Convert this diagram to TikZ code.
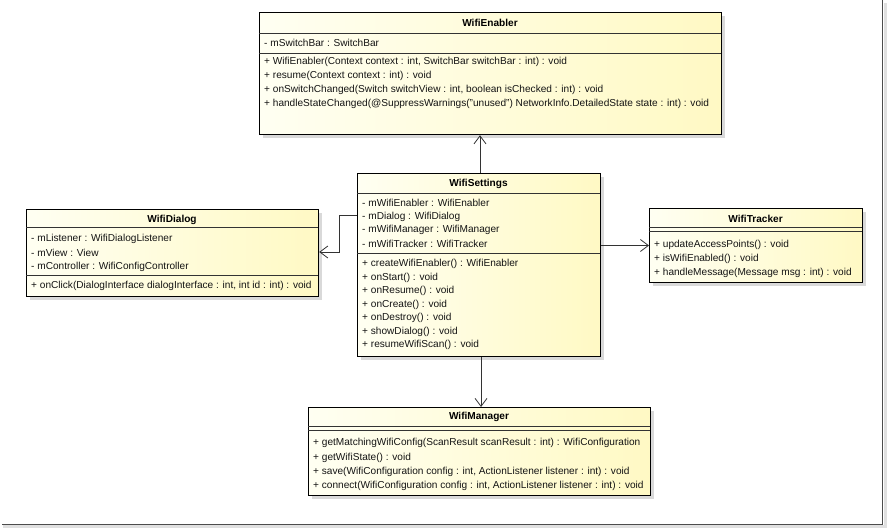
\documentclass[tikz,border=0pt]{standalone}
\usepackage{fontspec}
\setmainfont{Liberation Sans}
\usetikzlibrary{arrows.meta,shadows,calc}
\definecolor{boxL}{HTML}{FFFFF2}
\definecolor{boxR}{HTML}{FFF9C4}
\definecolor{lineC}{HTML}{333333}
\tikzset{
  classbox/.style={draw=black, line width=1.2pt, inner sep=0pt, anchor=north west,
    left color=boxL, right color=boxR,
    drop shadow={shadow xshift=3pt, shadow yshift=-3pt, fill=black!15, opacity=1}},
  sep/.style={draw=black!80, line width=0.9pt},
  txt/.style={anchor=west, inner sep=0pt, text=black!92, font=\fontsize{10.1}{12}\selectfont},
  ttl/.style={anchor=center, inner sep=0pt, text=black, font=\fontsize{10.1}{12}\selectfont\bfseries},
  assoc/.style={draw=lineC, line width=0.8pt, -{Straight Barb[length=8pt,width=12pt,line width=0.8pt]}},
}
\begin{document}
\begin{tikzpicture}[x=1pt,y=-1pt]
\useasboundingbox (0,0) rectangle (887,529);
\fill[white] (0,0) rectangle (887,529);
% frame shadow
\fill[black!12] (3,525) rectangle (886,528);
\fill[black!12] (884,3) rectangle (887,528);
\draw[black!70, line width=1.6pt] (2,524.5) -- (882.5,524.5) -- (882.5,0);

% ---------- WifiEnabler ----------
\node[classbox, minimum width=462pt, minimum height=122pt] (enabler) at (259,12) {};
\draw[sep] (259,33) -- (721,33);
\draw[sep] (259,53) -- (721,53);
\node[ttl] (enablerT) at (490,23) {WifiEnabler};
\node[txt] (e1) at (264,43) {- mSwitchBar : SwitchBar};
\node[txt] (e2) at (264,62) {+ WifiEnabler(Context context : int, SwitchBar switchBar : int) : void};
\node[txt] (e3) at (264,76) {+ resume(Context context : int) : void};
\node[txt] (e4) at (264,90) {+ onSwitchChanged(Switch switchView : int, boolean isChecked : int) : void};
\node[txt] (e5) at (264,104) {+ handleStateChanged(@SuppressWarnings("unused") NetworkInfo.DetailedState state : int) : void};

% ---------- WifiSettings ----------
\node[classbox, minimum width=243pt, minimum height=183pt] (settings) at (357,173) {};
\draw[sep] (357,193) -- (600,193);
\draw[sep] (357,253) -- (600,253);
\node[ttl] (settingsT) at (478.5,184) {WifiSettings};
\node[txt] (s1) at (362,203) {- mWifiEnabler : WifiEnabler};
\node[txt] (s2) at (362,216.5) {- mDialog : WifiDialog};
\node[txt] (s3) at (362,230) {- mWifiManager : WifiManager};
\node[txt] (s4) at (362,244) {- mWifiTracker : WifiTracker};
\node[txt] (s5) at (362,264) {+ createWifiEnabler() : WifiEnabler};
\node[txt] (s6) at (362,278) {+ onStart() : void};
\node[txt] (s7) at (362,291) {+ onResume() : void};
\node[txt] (s8) at (362,305) {+ onCreate() : void};
\node[txt] (s9) at (362,318) {+ onDestroy() : void};
\node[txt] (s10) at (362,332) {+ showDialog() : void};
\node[txt] (s11) at (362,345) {+ resumeWifiScan() : void};

% ---------- WifiDialog ----------
\node[classbox, minimum width=292pt, minimum height=87pt] (dialog) at (26,209) {};
\draw[sep] (26,227) -- (318,227);
\draw[sep] (26,275) -- (318,275);
\node[ttl] (dialogT) at (172,219.5) {WifiDialog};
\node[txt] (d1) at (31,239) {- mListener : WifiDialogListener};
\node[txt] (d2) at (31,253) {- mView : View};
\node[txt] (d3) at (31,267) {- mController : WifiConfigController};
\node[txt] (d4) at (31,286) {+ onClick(DialogInterface dialogInterface : int, int id : int) : void};

% ---------- WifiTracker ----------
\node[classbox, minimum width=213pt, minimum height=74pt] (tracker) at (649,208) {};
\draw[sep] (649,227) -- (862,227);
\draw[sep] (649,231) -- (862,231);
\node[ttl] (trackerT) at (755.5,218.5) {WifiTracker};
\node[txt] (t1) at (654,245) {+ updateAccessPoints() : void};
\node[txt] (t2) at (654,259) {+ isWifiEnabled() : void};
\node[txt] (t3) at (654,273) {+ handleMessage(Message msg : int) : void};

% ---------- WifiManager ----------
\node[classbox, minimum width=342pt, minimum height=88pt] (manager) at (308,407) {};
\draw[sep] (308,426) -- (650,426);
\draw[sep] (308,430) -- (650,430);
\node[ttl] (managerT) at (479,417) {WifiManager};
\node[txt] (m1) at (313,443) {+ getMatchingWifiConfig(ScanResult scanResult : int) : WifiConfiguration};
\node[txt] (m2) at (313,458) {+ getWifiState() : void};
\node[txt] (m3) at (313,472) {+ save(WifiConfiguration config : int, ActionListener listener : int) : void};
\node[txt] (m4) at (313,486) {+ connect(WifiConfiguration config : int, ActionListener listener : int) : void};

% ---------- connectors ----------
\coordinate (cUp) at (480,0);
\coordinate (cDown) at (481,0);
\coordinate (cD1) at (0,215);
\coordinate (cBend) at (339,0);
\coordinate (cD2) at (0,252);
\coordinate (cT) at (0,245.5);
\draw[assoc] (settings.north -| cUp) -- (enabler.south -| cUp);
\draw[assoc] (settings.south -| cDown) -- (manager.north -| cDown);
\draw[assoc] (settings.west |- cD1) -| (cBend |- cD2) -- (dialog.east |- cD2);
\draw[assoc] (settings.east |- cT) -- (tracker.west |- cT);
\end{tikzpicture}
\end{document}
